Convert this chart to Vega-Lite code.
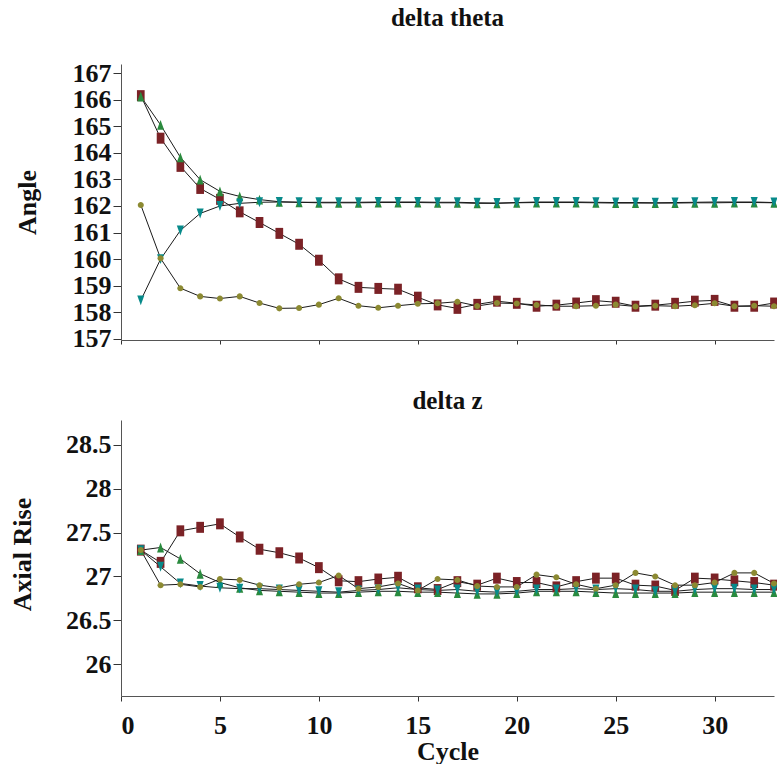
{
  "$schema": "https://vega.github.io/schema/vega-lite/v6.json",
  "padding": {"left": 8, "top": 6, "right": 2, "bottom": 0},
  "spacing": 80,
  "bounds": "flush",
  "datasets": {
    "theta": [
      {"s":"A","c":1,"v":166.15},{"s":"A","c":2,"v":164.55},{"s":"A","c":3,"v":163.49},{"s":"A","c":4,"v":162.66},{"s":"A","c":5,"v":162.25},{"s":"A","c":6,"v":161.78},{"s":"A","c":7,"v":161.38},{"s":"A","c":8,"v":160.97},{"s":"A","c":9,"v":160.56},{"s":"A","c":10,"v":159.96},{"s":"A","c":11,"v":159.26},{"s":"A","c":12,"v":158.94},{"s":"A","c":13,"v":158.9},{"s":"A","c":14,"v":158.87},{"s":"A","c":15,"v":158.57},{"s":"A","c":16,"v":158.28},{"s":"A","c":17,"v":158.15},{"s":"A","c":18,"v":158.3},{"s":"A","c":19,"v":158.42},{"s":"A","c":20,"v":158.34},{"s":"A","c":21,"v":158.23},{"s":"A","c":22,"v":158.27},{"s":"A","c":23,"v":158.35},{"s":"A","c":24,"v":158.44},{"s":"A","c":25,"v":158.38},{"s":"A","c":26,"v":158.23},{"s":"A","c":27,"v":158.27},{"s":"A","c":28,"v":158.34},{"s":"A","c":29,"v":158.42},{"s":"A","c":30,"v":158.45},{"s":"A","c":31,"v":158.23},{"s":"A","c":32,"v":158.23},{"s":"A","c":33,"v":158.35},
      {"s":"B","c":1,"v":166.12},{"s":"B","c":2,"v":165.05},{"s":"B","c":3,"v":163.83},{"s":"B","c":4,"v":162.99},{"s":"B","c":5,"v":162.55},{"s":"B","c":6,"v":162.36},{"s":"B","c":7,"v":162.24},{"s":"B","c":8,"v":162.16},{"s":"B","c":9,"v":162.14},{"s":"B","c":10,"v":162.12},{"s":"B","c":11,"v":162.12},{"s":"B","c":12,"v":162.12},{"s":"B","c":13,"v":162.13},{"s":"B","c":14,"v":162.13},{"s":"B","c":15,"v":162.13},{"s":"B","c":16,"v":162.12},{"s":"B","c":17,"v":162.12},{"s":"B","c":18,"v":162.1},{"s":"B","c":19,"v":162.1},{"s":"B","c":20,"v":162.12},{"s":"B","c":21,"v":162.13},{"s":"B","c":22,"v":162.13},{"s":"B","c":23,"v":162.13},{"s":"B","c":24,"v":162.12},{"s":"B","c":25,"v":162.11},{"s":"B","c":26,"v":162.11},{"s":"B","c":27,"v":162.11},{"s":"B","c":28,"v":162.11},{"s":"B","c":29,"v":162.12},{"s":"B","c":30,"v":162.12},{"s":"B","c":31,"v":162.13},{"s":"B","c":32,"v":162.13},{"s":"B","c":33,"v":162.12},
      {"s":"C","c":1,"v":158.45},{"s":"C","c":2,"v":160.0},{"s":"C","c":3,"v":161.08},{"s":"C","c":4,"v":161.72},{"s":"C","c":5,"v":162.0},{"s":"C","c":6,"v":162.1},{"s":"C","c":7,"v":162.14},{"s":"C","c":8,"v":162.15},{"s":"C","c":9,"v":162.14},{"s":"C","c":10,"v":162.14},{"s":"C","c":11,"v":162.14},{"s":"C","c":12,"v":162.14},{"s":"C","c":13,"v":162.15},{"s":"C","c":14,"v":162.15},{"s":"C","c":15,"v":162.15},{"s":"C","c":16,"v":162.14},{"s":"C","c":17,"v":162.14},{"s":"C","c":18,"v":162.12},{"s":"C","c":19,"v":162.11},{"s":"C","c":20,"v":162.13},{"s":"C","c":21,"v":162.15},{"s":"C","c":22,"v":162.15},{"s":"C","c":23,"v":162.15},{"s":"C","c":24,"v":162.14},{"s":"C","c":25,"v":162.13},{"s":"C","c":26,"v":162.13},{"s":"C","c":27,"v":162.12},{"s":"C","c":28,"v":162.13},{"s":"C","c":29,"v":162.14},{"s":"C","c":30,"v":162.15},{"s":"C","c":31,"v":162.15},{"s":"C","c":32,"v":162.15},{"s":"C","c":33,"v":162.13},
      {"s":"D","c":1,"v":162.04},{"s":"D","c":2,"v":160.03},{"s":"D","c":3,"v":158.91},{"s":"D","c":4,"v":158.6},{"s":"D","c":5,"v":158.52},{"s":"D","c":6,"v":158.6},{"s":"D","c":7,"v":158.35},{"s":"D","c":8,"v":158.15},{"s":"D","c":9,"v":158.16},{"s":"D","c":10,"v":158.29},{"s":"D","c":11,"v":158.53},{"s":"D","c":12,"v":158.25},{"s":"D","c":13,"v":158.17},{"s":"D","c":14,"v":158.25},{"s":"D","c":15,"v":158.32},{"s":"D","c":16,"v":158.34},{"s":"D","c":17,"v":158.4},{"s":"D","c":18,"v":158.24},{"s":"D","c":19,"v":158.35},{"s":"D","c":20,"v":158.33},{"s":"D","c":21,"v":158.28},{"s":"D","c":22,"v":158.23},{"s":"D","c":23,"v":158.23},{"s":"D","c":24,"v":158.25},{"s":"D","c":25,"v":158.29},{"s":"D","c":26,"v":158.22},{"s":"D","c":27,"v":158.25},{"s":"D","c":28,"v":158.23},{"s":"D","c":29,"v":158.27},{"s":"D","c":30,"v":158.34},{"s":"D","c":31,"v":158.23},{"s":"D","c":32,"v":158.25},{"s":"D","c":33,"v":158.23}
    ],
    "z": [
      {"s":"A","c":1,"v":27.3},{"s":"A","c":2,"v":27.16},{"s":"A","c":3,"v":27.52},{"s":"A","c":4,"v":27.56},{"s":"A","c":5,"v":27.6},{"s":"A","c":6,"v":27.45},{"s":"A","c":7,"v":27.31},{"s":"A","c":8,"v":27.27},{"s":"A","c":9,"v":27.21},{"s":"A","c":10,"v":27.1},{"s":"A","c":11,"v":26.95},{"s":"A","c":12,"v":26.94},{"s":"A","c":13,"v":26.97},{"s":"A","c":14,"v":26.99},{"s":"A","c":15,"v":26.87},{"s":"A","c":16,"v":26.85},{"s":"A","c":17,"v":26.94},{"s":"A","c":18,"v":26.9},{"s":"A","c":19,"v":26.98},{"s":"A","c":20,"v":26.93},{"s":"A","c":21,"v":26.93},{"s":"A","c":22,"v":26.88},{"s":"A","c":23,"v":26.94},{"s":"A","c":24,"v":26.98},{"s":"A","c":25,"v":26.98},{"s":"A","c":26,"v":26.9},{"s":"A","c":27,"v":26.89},{"s":"A","c":28,"v":26.84},{"s":"A","c":29,"v":26.98},{"s":"A","c":30,"v":26.97},{"s":"A","c":31,"v":26.95},{"s":"A","c":32,"v":26.93},{"s":"A","c":33,"v":26.9},
      {"s":"B","c":1,"v":27.3},{"s":"B","c":2,"v":27.33},{"s":"B","c":3,"v":27.2},{"s":"B","c":4,"v":27.03},{"s":"B","c":5,"v":26.93},{"s":"B","c":6,"v":26.87},{"s":"B","c":7,"v":26.84},{"s":"B","c":8,"v":26.83},{"s":"B","c":9,"v":26.82},{"s":"B","c":10,"v":26.81},{"s":"B","c":11,"v":26.81},{"s":"B","c":12,"v":26.82},{"s":"B","c":13,"v":26.83},{"s":"B","c":14,"v":26.83},{"s":"B","c":15,"v":26.82},{"s":"B","c":16,"v":26.82},{"s":"B","c":17,"v":26.81},{"s":"B","c":18,"v":26.8},{"s":"B","c":19,"v":26.8},{"s":"B","c":20,"v":26.81},{"s":"B","c":21,"v":26.83},{"s":"B","c":22,"v":26.83},{"s":"B","c":23,"v":26.83},{"s":"B","c":24,"v":26.82},{"s":"B","c":25,"v":26.81},{"s":"B","c":26,"v":26.81},{"s":"B","c":27,"v":26.81},{"s":"B","c":28,"v":26.81},{"s":"B","c":29,"v":26.82},{"s":"B","c":30,"v":26.82},{"s":"B","c":31,"v":26.82},{"s":"B","c":32,"v":26.82},{"s":"B","c":33,"v":26.82},
      {"s":"C","c":1,"v":27.3},{"s":"C","c":2,"v":27.11},{"s":"C","c":3,"v":26.92},{"s":"C","c":4,"v":26.89},{"s":"C","c":5,"v":26.87},{"s":"C","c":6,"v":26.86},{"s":"C","c":7,"v":26.86},{"s":"C","c":8,"v":26.85},{"s":"C","c":9,"v":26.84},{"s":"C","c":10,"v":26.83},{"s":"C","c":11,"v":26.82},{"s":"C","c":12,"v":26.84},{"s":"C","c":13,"v":26.85},{"s":"C","c":14,"v":26.87},{"s":"C","c":15,"v":26.85},{"s":"C","c":16,"v":26.84},{"s":"C","c":17,"v":26.85},{"s":"C","c":18,"v":26.83},{"s":"C","c":19,"v":26.82},{"s":"C","c":20,"v":26.83},{"s":"C","c":21,"v":26.85},{"s":"C","c":22,"v":26.85},{"s":"C","c":23,"v":26.86},{"s":"C","c":24,"v":26.85},{"s":"C","c":25,"v":26.86},{"s":"C","c":26,"v":26.85},{"s":"C","c":27,"v":26.83},{"s":"C","c":28,"v":26.83},{"s":"C","c":29,"v":26.85},{"s":"C","c":30,"v":26.86},{"s":"C","c":31,"v":26.86},{"s":"C","c":32,"v":26.85},{"s":"C","c":33,"v":26.85},
      {"s":"D","c":1,"v":27.3},{"s":"D","c":2,"v":26.9},{"s":"D","c":3,"v":26.91},{"s":"D","c":4,"v":26.88},{"s":"D","c":5,"v":26.97},{"s":"D","c":6,"v":26.96},{"s":"D","c":7,"v":26.9},{"s":"D","c":8,"v":26.87},{"s":"D","c":9,"v":26.91},{"s":"D","c":10,"v":26.93},{"s":"D","c":11,"v":27.01},{"s":"D","c":12,"v":26.86},{"s":"D","c":13,"v":26.88},{"s":"D","c":14,"v":26.92},{"s":"D","c":15,"v":26.84},{"s":"D","c":16,"v":26.97},{"s":"D","c":17,"v":26.96},{"s":"D","c":18,"v":26.89},{"s":"D","c":19,"v":26.88},{"s":"D","c":20,"v":26.88},{"s":"D","c":21,"v":27.02},{"s":"D","c":22,"v":26.99},{"s":"D","c":23,"v":26.91},{"s":"D","c":24,"v":26.86},{"s":"D","c":25,"v":26.9},{"s":"D","c":26,"v":27.04},{"s":"D","c":27,"v":27.0},{"s":"D","c":28,"v":26.9},{"s":"D","c":29,"v":26.9},{"s":"D","c":30,"v":26.93},{"s":"D","c":31,"v":27.04},{"s":"D","c":32,"v":27.04},{"s":"D","c":33,"v":26.92}
    ]
  },
  "vconcat": [
    {
      "title": {"text": "delta theta", "offset": 9, "baseline": "alphabetic"},
      "width": 653,
      "height": 276,
      "data": {"name": "theta"},
      "encoding": {
        "x": {"field": "c", "type": "quantitative", "scale": {"domain": [0, 33], "nice": false, "zero": false},
              "axis": {"values": [0, 5, 10, 15, 20, 25, 30], "labels": false, "title": null, "tickSize": 4}},
        "y": {"field": "v", "type": "quantitative", "scale": {"domain": [156.96, 167.34], "nice": false, "zero": false},
              "axis": {"values": [157,158,159,160,161,162,163,164,165,166,167], "labelOverlap": false, "labelBound": false, "tickSize": 8, "labelPadding": 2,
                       "title": "Angle", "titleBaseline": "alphabetic", "titleX": -86, "titleY": 138}}
      },
      "layer": [
        {
          "mark": {"type": "line", "color": "#1a1a1a", "strokeWidth": 1},
          "encoding": {"detail": {"field": "s"}}
        },
        {
          "mark": {"type": "point", "filled": true, "opacity": 1, "size": 121},
          "encoding": {
            "color": {"field": "s", "type": "nominal", "legend": null,
                      "scale": {"domain": ["A","B","C","D"], "range": ["#7B2226","#2A8A3E","#078A8A","#8C8A32"]}},
            "shape": {"field": "s", "type": "nominal", "legend": null,
                      "scale": {"domain": ["A","B","C","D"], "range": ["M-0.7,-1L0.7,-1L0.7,1L-0.7,1Z","M0,-0.9L0.64,0.9L-0.64,0.9Z","M-0.64,-0.9L0.64,-0.9L0,0.9Z","M0.55,0A0.55,0.55 0 1,1 -0.55,0A0.55,0.55 0 1,1 0.55,0Z"]}}
          }
        }
      ]
    },
    {
      "title": {"text": "delta z", "offset": -14, "baseline": "alphabetic"},
      "width": 653,
      "height": 276,
      "data": {"name": "z"},
      "encoding": {
        "x": {"field": "c", "type": "quantitative", "scale": {"domain": [0, 33], "nice": false, "zero": false},
              "axis": {"values": [0, 5, 10, 15, 20, 25, 30], "format": "~g", "tickSize": 5, "labelPadding": 11,
                       "title": "Cycle", "titleBaseline": "alphabetic", "titleY": 63}},
        "y": {"field": "v", "type": "quantitative", "scale": {"domain": [25.635, 28.785], "nice": false, "zero": false},
              "axis": {"values": [26, 26.5, 27, 27.5, 28, 28.5], "format": "~g", "labelOverlap": false, "tickSize": 8, "labelPadding": 2,
                       "title": "Axial Rise", "titleBaseline": "alphabetic", "titleX": -91, "titleY": 134}}
      },
      "layer": [
        {
          "mark": {"type": "line", "color": "#1a1a1a", "strokeWidth": 1},
          "encoding": {"detail": {"field": "s"}}
        },
        {
          "mark": {"type": "point", "filled": true, "opacity": 1, "size": 121},
          "encoding": {
            "color": {"field": "s", "type": "nominal", "legend": null,
                      "scale": {"domain": ["A","B","C","D"], "range": ["#7B2226","#2A8A3E","#078A8A","#8C8A32"]}},
            "shape": {"field": "s", "type": "nominal", "legend": null,
                      "scale": {"domain": ["A","B","C","D"], "range": ["M-0.7,-1L0.7,-1L0.7,1L-0.7,1Z","M0,-0.9L0.64,0.9L-0.64,0.9Z","M-0.64,-0.9L0.64,-0.9L0,0.9Z","M0.55,0A0.55,0.55 0 1,1 -0.55,0A0.55,0.55 0 1,1 0.55,0Z"]}}
          }
        }
      ]
    }
  ],
  "resolve": {"scale": {"color": "independent", "shape": "independent"}},
  "config": {
    "font": "Liberation Serif",
    "view": {"stroke": null},
    "axis": {
      "grid": false,
      "labelFont": "Liberation Serif", "labelFontWeight": "bold", "labelFontSize": 26, "labelColor": "#111",
      "titleFont": "Liberation Serif", "titleFontWeight": "bold", "titleFontSize": 26, "titleColor": "#111",
      "domainColor": "#555", "tickColor": "#333"
    },
    "title": {"font": "Liberation Serif", "fontSize": 25, "fontWeight": "bold", "color": "#111"}
  }
}
